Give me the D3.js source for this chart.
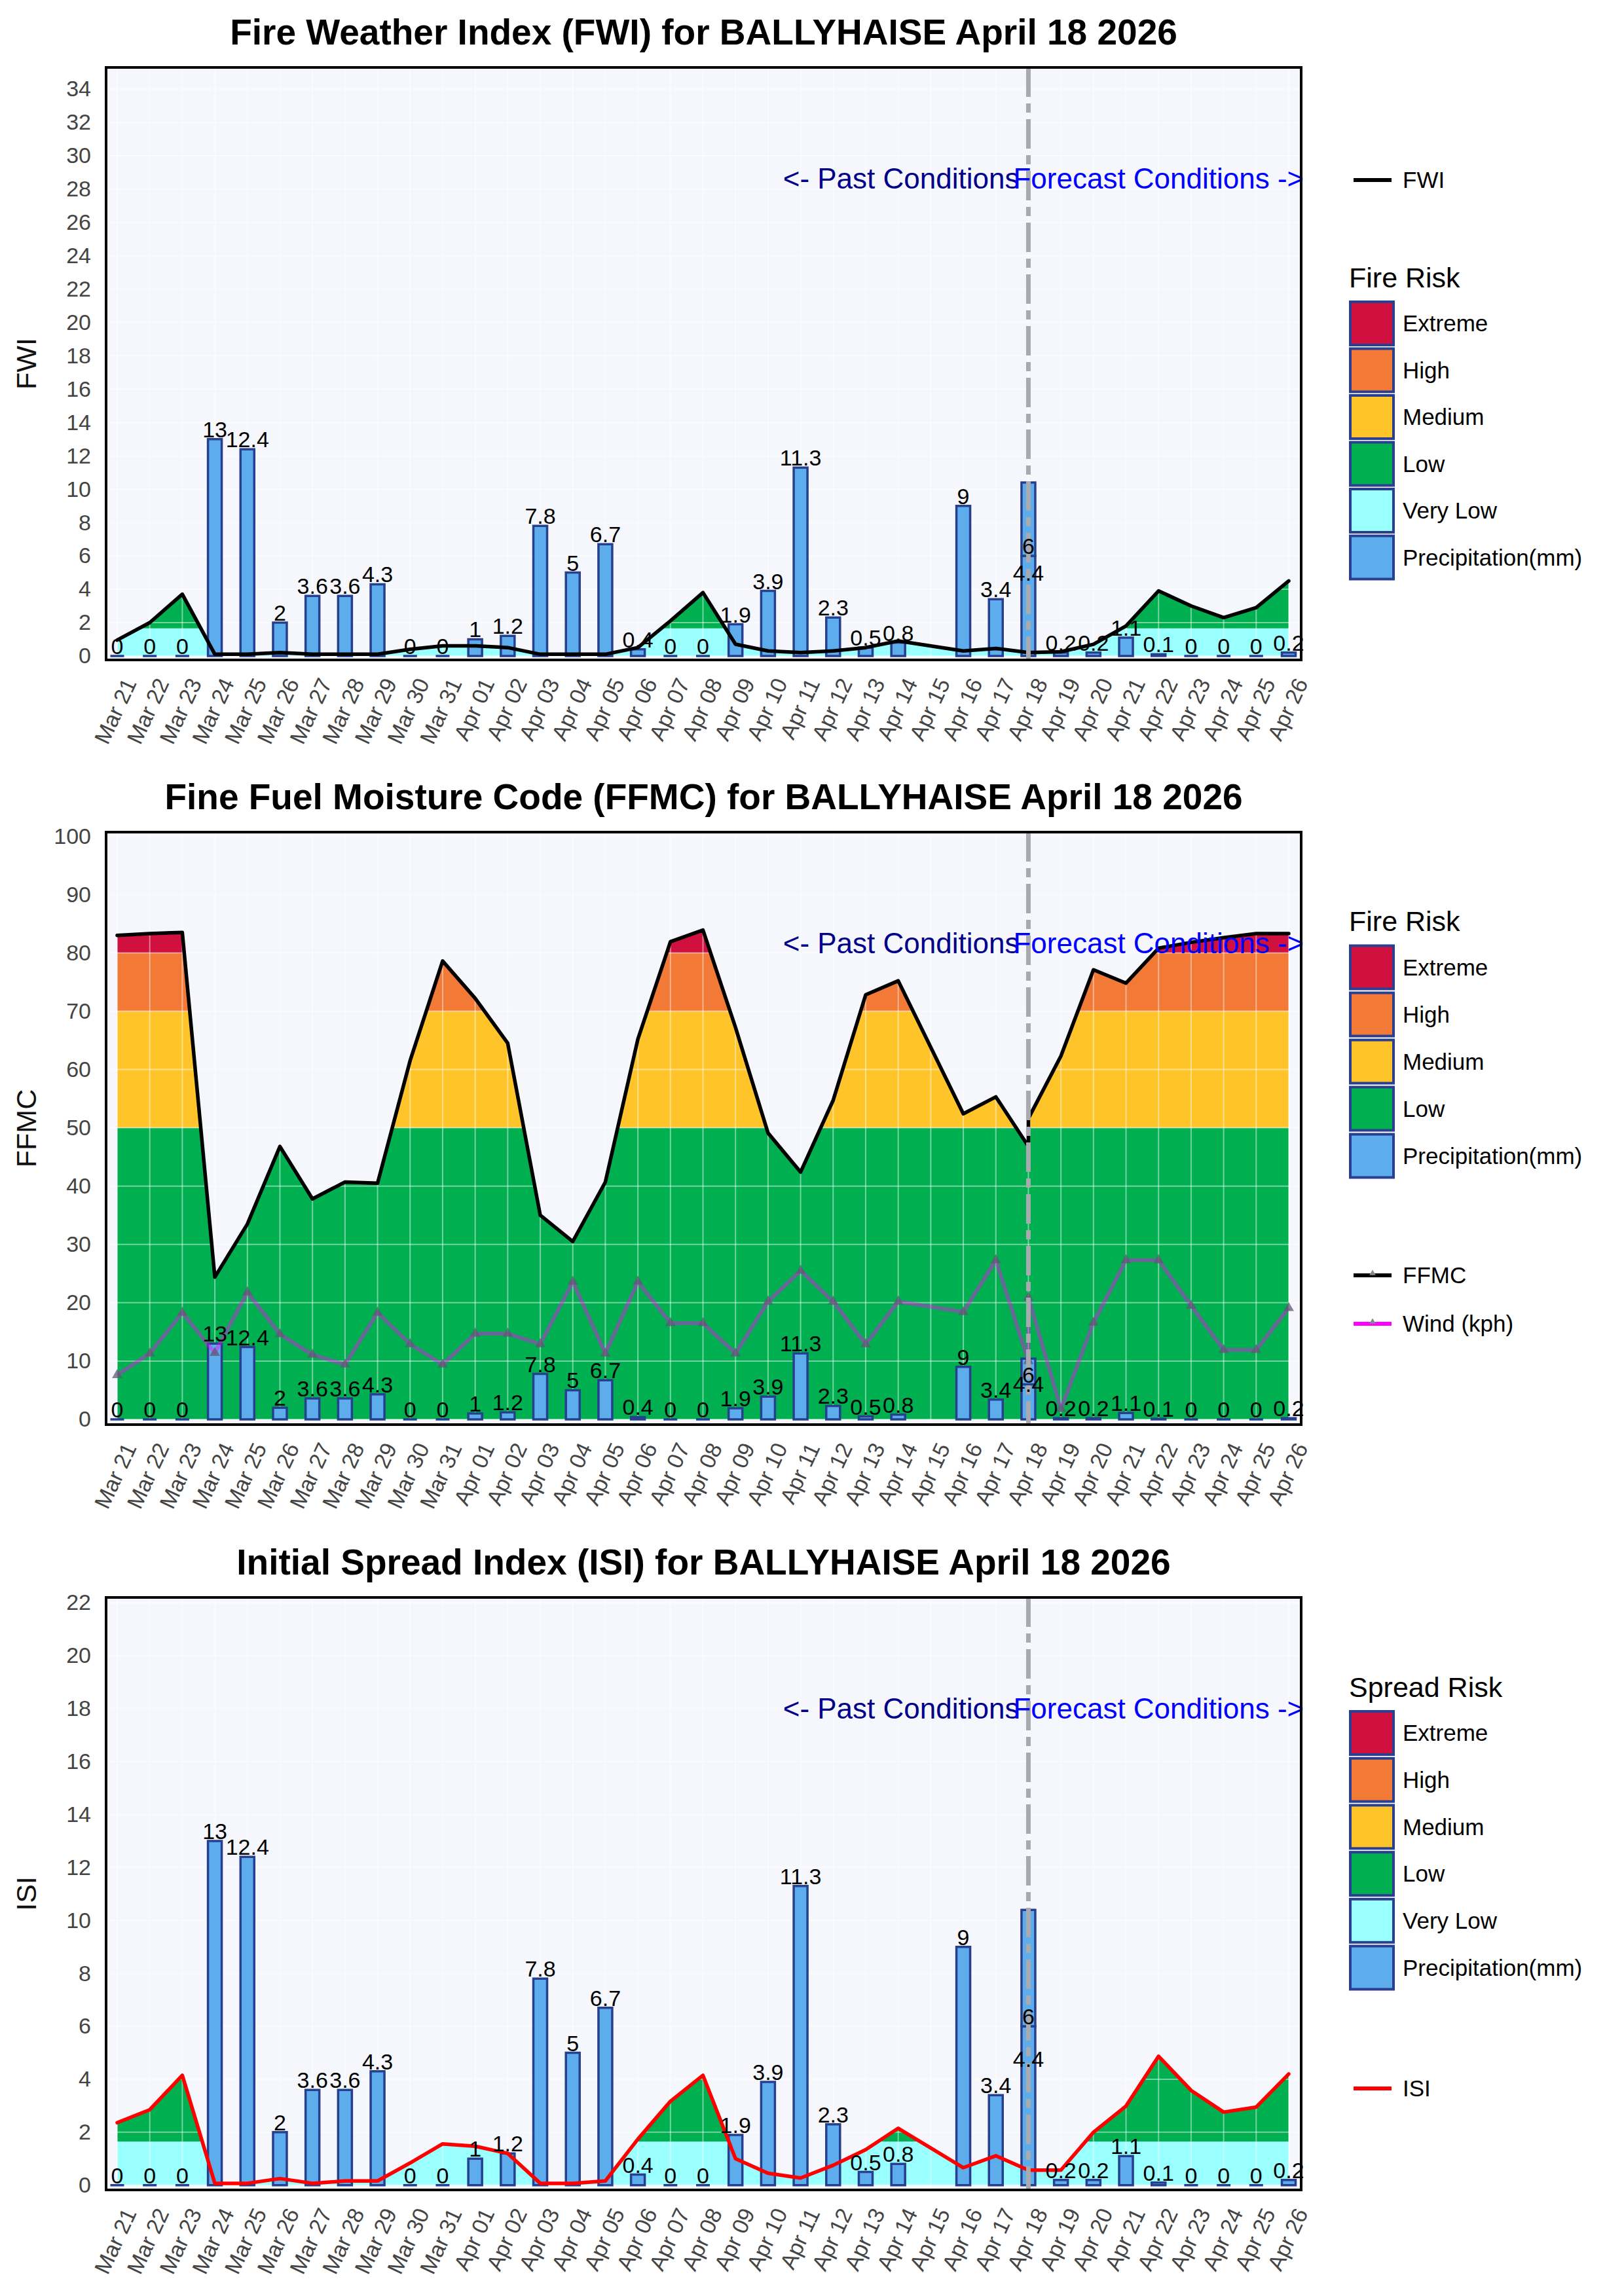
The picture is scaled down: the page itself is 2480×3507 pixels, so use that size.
<!DOCTYPE html>
<html>
<head>
<meta charset="utf-8">
<script src="https://cdn.jsdelivr.net/npm/d3@7"></script>
<style>
body { margin: 0; background: #fff; }
text { font-family: "Liberation Sans", Arial, Helvetica, sans-serif; }
</style>
</head>
<body>
<svg id="chart" width="2480" height="3507"></svg>
<script>
// x axis categories
var dates = ["Mar 21","Mar 22","Mar 23","Mar 24","Mar 25","Mar 26","Mar 27","Mar 28","Mar 29","Mar 30","Mar 31",
  "Apr 01","Apr 02","Apr 03","Apr 04","Apr 05","Apr 06","Apr 07","Apr 08","Apr 09","Apr 10","Apr 11","Apr 12",
  "Apr 13","Apr 14","Apr 15","Apr 16","Apr 17","Apr 18","Apr 19","Apr 20","Apr 21","Apr 22","Apr 23","Apr 24",
  "Apr 25","Apr 26"];
var pastDates = ["Mar 21","Mar 22","Mar 23","Mar 24","Mar 25","Mar 26","Mar 27","Mar 28","Mar 29","Mar 30","Mar 31",
  "Apr 01","Apr 02","Apr 03","Apr 04","Apr 05","Apr 06","Apr 07","Apr 08","Apr 09","Apr 10","Apr 11","Apr 12",
  "Apr 13","Apr 14","Apr 15","Apr 16","Apr 17","Apr 18"];
var forecastDates = ["Apr 18","Apr 19","Apr 20","Apr 21","Apr 22","Apr 23","Apr 24","Apr 25","Apr 26"];
var splitDate = "Apr 18";

// observed / forecast values (Apr 15 missing)
var precipPast = [0,0,0,13,12.4,2,3.6,3.6,4.3,0,0,1,1.2,7.8,5,6.7,0.4,0,0,1.9,3.9,11.3,2.3,0.5,0.8,null,9,3.4,6];
var precipForecast = [4.4,0.2,0.2,1.1,0.1,0,0,0,0.2];

var fwiPast = [0.95,2.0,3.7,0.1,0.1,0.2,0.1,0.1,0.1,0.4,0.6,0.6,0.5,0.1,0.1,0.1,0.5,2.1,3.8,0.7,0.3,0.2,0.3,0.5,0.9,null,0.3,0.45,0.2];
var fwiForecast = [0.2,0.25,0.7,1.8,3.9,3.0,2.3,2.9,4.5];

var ffmcPast = [83.0,83.3,83.5,24.4,33.5,46.8,37.8,40.7,40.5,61.5,78.6,72.2,64.5,35.0,30.5,40.7,65.2,81.9,83.9,67.2,49.1,42.4,54.7,72.8,75.2,null,52.4,55.3,46.8];
var ffmcForecast = [51.6,62.3,77.1,74.8,80.8,81.8,82.6,83.3,83.3];

var windPast = [7.6,11.3,18.3,11.4,21.8,14.6,11.1,9.4,18.3,12.9,9.4,14.7,14.7,12.9,23.6,11.3,23.6,16.5,16.5,11.3,20.2,25.5,20.2,12.9,20.2,null,18.4,27.3,10.0];
var windForecast = [20.9,1.8,16.6,27.3,27.3,19.5,11.9,11.9,19.1];

var isiPast = [2.36,2.85,4.15,0.07,0.07,0.25,0.07,0.16,0.16,0.84,1.56,1.47,1.2,0.07,0.07,0.16,1.74,3.17,4.15,1.0,0.45,0.27,0.75,1.34,2.15,null,0.66,1.11,0.57];
var isiForecast = [0.57,0.57,2.0,2.99,4.87,3.58,2.76,2.95,4.2];

// tick labels
var fwiTicks = [0,2,4,6,8,10,12,14,16,18,20,22,24,26,28,30,32,34];
var ffmcTicks = [0,10,20,30,40,50,60,70,80,90,100];
var isiTicks = [0,2,4,6,8,10,12,14,16,18,20,22];

// risk classes (upper limit of each class)
var riskNames = ["Extreme","High","Medium","Low","Very Low"];
var riskColors = {"Extreme":"#D0103F","High":"#F27936","Medium":"#FFC429","Low":"#00B050","Very Low":"#99FFFF"};
var fwiLimits = {"Very Low":1.65,"Low":5.2,"Medium":11.2,"High":21.3,"Extreme":1000};
var ffmcLimits = {"Low":50,"Medium":70,"High":80,"Extreme":1000};
var isiLimits = {"Very Low":1.65,"Low":5,"Medium":10,"High":16,"Extreme":1000};

var precipColor = "#5DADEC", barEdge = "#26408F";

var svg = d3.select("#chart");
var left = 162, right = 1987, plotH = 905;
var x = d3.scalePoint().domain(dates).range([179, 1968]);

function points(pv, fv) {
  var pts = [];
  pastDates.forEach(function(d, i) { if (pv[i] != null) pts.push({d: d, v: pv[i]}); });
  forecastDates.forEach(function(d, i) { if (fv[i] != null) pts.push({d: d, v: fv[i]}); });
  return pts;
}

function bandsFrom(limits) {
  var out = [], lo = 0;
  riskNames.slice().reverse().forEach(function(n) {
    if (limits[n] != null) { out.push({name: n, lo: lo, hi: limits[n], color: riskColors[n]}); lo = limits[n]; }
  });
  return out;
}

function drawChart(c) {
  var top = c.top, bottom = c.top + plotH;
  var y = d3.scaleLinear().domain([c.yMin, c.yMax]).range([bottom, top]);
  var g = svg.append("g");

  g.append("rect").attr("x", left).attr("y", top).attr("width", right - left).attr("height", plotH)
    .attr("fill", "#F6F7FC");

  // risk fills under the index line
  var pts = points(c.past, c.forecast);
  var area = d3.area().x(function(p) { return x(p.d); }).y0(y(0)).y1(function(p) { return y(p.v); });
  bandsFrom(c.limits).forEach(function(b, i) {
    var id = c.id + "-band" + i;
    var yt = y(Math.min(b.hi, c.yMax)), yb = y(b.lo);
    g.append("clipPath").attr("id", id).append("rect")
      .attr("x", left).attr("y", yt).attr("width", right - left).attr("height", Math.max(0, yb - yt));
    g.append("path").attr("d", area(pts)).attr("fill", b.color).attr("clip-path", "url(#" + id + ")");
  });

  // grid
  g.append("g").selectAll("line").data(dates).enter().append("line")
    .attr("x1", function(d) { return x(d); }).attr("x2", function(d) { return x(d); })
    .attr("y1", top).attr("y2", bottom)
    .attr("stroke", "#fff").attr("stroke-opacity", 0.45).attr("stroke-width", 2);
  g.append("g").selectAll("line").data(c.ticks).enter().append("line")
    .attr("x1", left).attr("x2", right)
    .attr("y1", function(t) { return y(t); }).attr("y2", function(t) { return y(t); })
    .attr("stroke", "#fff").attr("stroke-opacity", 0.45).attr("stroke-width", 2);

  // precipitation bars (forecast stacked on top of observed on the split day)
  var bw = 21;
  var bars = [];
  pastDates.forEach(function(d, i) { if (precipPast[i] != null) bars.push({d: d, base: 0, v: precipPast[i]}); });
  forecastDates.forEach(function(d, i) {
    var j = pastDates.indexOf(d);
    var base = (j >= 0 && precipPast[j] != null) ? precipPast[j] : 0;
    bars.push({d: d, base: base, v: precipForecast[i]});
  });
  g.append("g").selectAll("path").data(bars).enter().append("path")
    .attr("d", function(b) {
      var x0 = x(b.d) - bw / 2, x1 = x(b.d) + bw / 2;
      return "M" + x0 + "," + y(b.base) + "H" + x1 + "V" + y(b.base + b.v) + "H" + x0 + "Z";
    })
    .attr("fill", precipColor).attr("stroke", barEdge).attr("stroke-width", 3.5);

  // wind line
  if (c.windPast) {
    var wpts = points(c.windPast, c.windForecast);
    g.append("path").attr("d", d3.line().x(function(p) { return x(p.d); }).y(function(p) { return y(p.v); })(wpts))
      .attr("fill", "none").attr("stroke", "#FF00FF").attr("stroke-opacity", 0.4)
      .attr("stroke-width", 6).attr("stroke-linejoin", "round");
    g.append("g").selectAll("path").data(wpts).enter().append("path")
      .attr("d", d3.symbol(d3.symbolTriangle, 110))
      .attr("transform", function(p) { return "translate(" + x(p.d) + "," + y(p.v) + ")"; })
      .attr("fill", "#5E5A72").attr("fill-opacity", 0.75);
  }

  // index line
  g.append("path").attr("d", d3.line().x(function(p) { return x(p.d); }).y(function(p) { return y(p.v); })(pts))
    .attr("fill", "none").attr("stroke", c.lineColor).attr("stroke-width", 5.5)
    .attr("stroke-linejoin", "round").attr("stroke-linecap", "round");

  // split line
  g.append("line").attr("x1", x(splitDate)).attr("x2", x(splitDate)).attr("y1", top).attr("y2", bottom)
    .attr("stroke", "#A9A9B0").attr("stroke-width", 7).attr("stroke-dasharray", "45,10,14,10");

  // bar labels
  g.append("g").selectAll("text").data(bars).enter().append("text")
    .attr("x", function(b) { return x(b.d); }).attr("y", function(b) { return y(b.v) - 3; })
    .attr("text-anchor", "middle").attr("font-size", 34).attr("fill", "#000")
    .text(function(b) { return b.v; });

  // past / forecast notes
  var ny = bottom - 0.796 * plotH;
  g.append("text").attr("x", x(splitDate) - 14).attr("y", ny).attr("text-anchor", "end")
    .attr("font-size", 44).attr("fill", "#00008B").text("<- Past Conditions");
  g.append("text").attr("x", x(splitDate) - 23).attr("y", ny).attr("text-anchor", "start")
    .attr("font-size", 44).attr("fill", "#0000FF").text("Forecast Conditions ->");

  // axes
  var ya = g.append("g").attr("transform", "translate(" + left + ",0)")
    .call(d3.axisLeft(y).tickValues(c.ticks).tickSize(0).tickPadding(23).tickFormat(d3.format("d")));
  ya.select(".domain").remove();
  ya.selectAll("text").attr("font-size", 34).attr("fill", "#444").style("font-family", "Liberation Sans, Arial, sans-serif");

  var xa = g.append("g").attr("transform", "translate(0," + bottom + ")")
    .call(d3.axisBottom(x).tickSize(0));
  xa.select(".domain").remove();
  xa.selectAll("text").attr("x", 0).attr("y", 0).attr("dy", "0.35em")
    .attr("transform", "translate(19,30) rotate(-65)").attr("text-anchor", "end")
    .attr("font-size", 34).attr("fill", "#444").style("font-family", "Liberation Sans, Arial, sans-serif");

  // frame
  g.append("rect").attr("x", left).attr("y", top).attr("width", right - left).attr("height", plotH)
    .attr("fill", "none").attr("stroke", "#000").attr("stroke-width", 4);

  // titles
  g.append("text").attr("x", (left + right) / 2).attr("y", top - 35).attr("text-anchor", "middle")
    .attr("font-size", 55).attr("font-weight", "bold").attr("fill", "#000").text(c.title);
  g.append("text").attr("transform", "translate(40," + (top + plotH / 2) + ") rotate(-90)")
    .attr("text-anchor", "middle").attr("dy", "0.35em").attr("font-size", 43).attr("fill", "#111").text(c.yLabel);

  // legend
  var lg = g.append("g");
  c.legendLines.forEach(function(l) {
    var ly = top + l.dy;
    lg.append("line").attr("x1", 2067).attr("x2", 2125).attr("y1", ly).attr("y2", ly)
      .attr("stroke", l.color).attr("stroke-width", 6);
    if (l.marker) {
      lg.append("path").attr("d", d3.symbol(d3.symbolTriangle, 40))
        .attr("transform", "translate(2096," + (ly - 3) + ")").attr("fill", "#888");
    }
    lg.append("text").attr("x", 2142).attr("y", ly).attr("dy", "0.35em").attr("font-size", 35).text(l.name);
  });
  lg.append("text").attr("x", 2060).attr("y", top + c.legendTitleDy).attr("font-size", 43).text(c.legendTitle);
  c.legendItems.forEach(function(name, i) {
    var cy = top + c.legendItemDy + i * c.legendStep;
    lg.append("rect").attr("x", 2062).attr("y", cy - 33).attr("width", 66).attr("height", 66)
      .attr("fill", name === "Precipitation(mm)" ? precipColor : riskColors[name])
      .attr("stroke", "#2A3F8F").attr("stroke-width", 4);
    lg.append("text").attr("x", 2142).attr("y", cy).attr("dy", "0.35em").attr("font-size", 35).text(name);
  });
}

drawChart({
  id: "fwi", top: 103, yMin: -0.24, yMax: 35.3, ticks: fwiTicks,
  title: "Fire Weather Index (FWI) for BALLYHAISE April 18 2026", yLabel: "FWI",
  past: fwiPast, forecast: fwiForecast, limits: fwiLimits, lineColor: "#000",
  legendLines: [{name: "FWI", color: "#000", dy: 172}],
  legendTitle: "Fire Risk", legendTitleDy: 336, legendItemDy: 391, legendStep: 71.5,
  legendItems: ["Extreme","High","Medium","Low","Very Low","Precipitation(mm)"]
});

drawChart({
  id: "ffmc", top: 1271, yMin: -0.9, yMax: 100.7, ticks: ffmcTicks,
  title: "Fine Fuel Moisture Code (FFMC) for BALLYHAISE April 18 2026", yLabel: "FFMC",
  past: ffmcPast, forecast: ffmcForecast, limits: ffmcLimits, lineColor: "#000",
  windPast: windPast, windForecast: windForecast,
  legendLines: [{name: "FFMC", color: "#000", dy: 677, marker: true}, {name: "Wind (kph)", color: "#FF00FF", dy: 751, marker: true}],
  legendTitle: "Fire Risk", legendTitleDy: 151, legendItemDy: 206.5, legendStep: 72,
  legendItems: ["Extreme","High","Medium","Low","Precipitation(mm)"]
});

drawChart({
  id: "isi", top: 2440, yMin: -0.18, yMax: 22.2, ticks: isiTicks,
  title: "Initial Spread Index (ISI) for BALLYHAISE April 18 2026", yLabel: "ISI",
  past: isiPast, forecast: isiForecast, limits: isiLimits, lineColor: "#FF0000",
  legendLines: [{name: "ISI", color: "#FF0000", dy: 750}],
  legendTitle: "Spread Risk", legendTitleDy: 152, legendItemDy: 207, legendStep: 71.7,
  legendItems: ["Extreme","High","Medium","Low","Very Low","Precipitation(mm)"]
});
</script>
</body>
</html>
